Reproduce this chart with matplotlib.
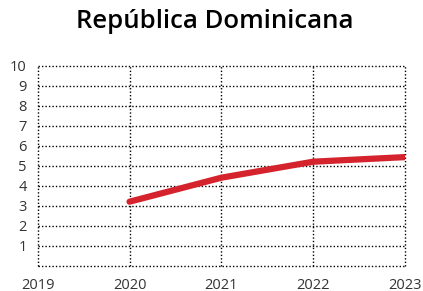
import matplotlib.pyplot as plt

# Data
years = [2020, 2021, 2022, 2023]
values = [3.2, 4.4, 5.2, 5.43]
x_ticks = [2019, 2020, 2021, 2022, 2023]
y_ticks = [1, 2, 3, 4, 5, 6, 7, 8, 9, 10]

fig = plt.figure(figsize=(4.23, 2.91), dpi=100)
ax = fig.add_axes([37.7 / 423, (291 - 265.7) / 291, (405 - 37.7) / 423, 200 / 291])

ax.plot(years, values, color="#d5232d", linewidth=4.5, solid_capstyle="round", zorder=3)

ax.set_xlim(2019, 2023)
ax.set_ylim(0, 10)
ax.set_xticks(x_ticks)
ax.set_yticks([0] + y_ticks)
ax.set_yticklabels([""] + [str(v) for v in y_ticks])

ax.grid(True, color="black", linestyle=(0, (1, 1.5)), linewidth=1)
for gl in ax.get_xgridlines() + ax.get_ygridlines():
    gl.set_clip_on(False)
for s in ax.spines.values():
    s.set_visible(False)
ax.tick_params(length=0, labelsize=10.5, labelcolor="#333333", pad=8)
ax.tick_params(axis="x", pad=9)
for lab in ax.get_xticklabels() + ax.get_yticklabels():
    lab.set_family("Open Sans")

fig.suptitle("República Dominicana", x=0.507, y=0.97, fontsize=18.5,
             fontfamily="Open Sans", fontweight="semibold", va="top")

fig.savefig("out.png", dpi=100)
